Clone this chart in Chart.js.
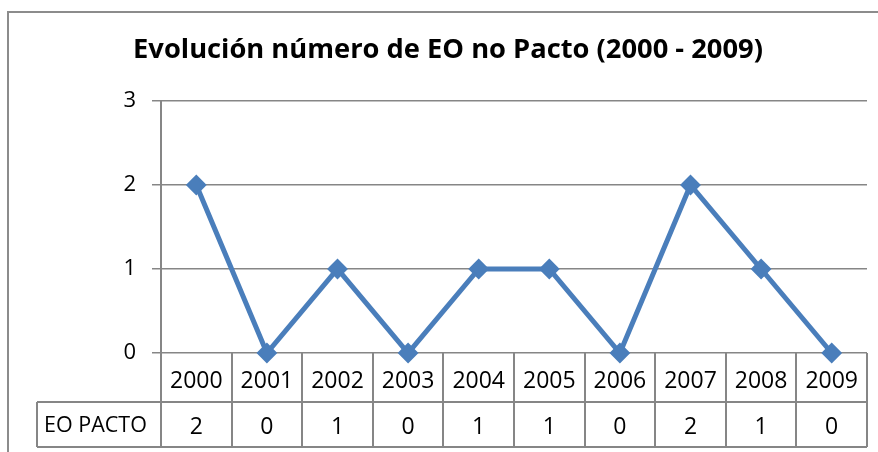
<!DOCTYPE html>
<html>
<head>
<meta charset="utf-8">
<script src="https://cdn.jsdelivr.net/npm/chart.js@4"></script>
<style>
  html, body { margin: 0; padding: 0; background: #fff; }
  #wrap { width: 878px; height: 452px; }
</style>
</head>
<body>
<div id="wrap"><canvas id="chart" width="878" height="452"></canvas></div>
<script>
const years = ["2000", "2001", "2002", "2003", "2004", "2005", "2006", "2007", "2008", "2009"];
const eoPacto = [2, 0, 1, 0, 1, 1, 0, 2, 1, 0];
const seriesName = "EO PACTO";
const chartTitle = "Evolución número de EO no Pacto (2000 - 2009)";

const FONT = "'Open Sans', sans-serif";
const GRID = "#868686";

// outer frame of the chart object (only left and top edges are visible)
const framePlugin = {
  id: "frame",
  beforeDraw: (chart) => {
    const ctx = chart.ctx;
    ctx.save();
    ctx.fillStyle = "#fff";
    ctx.fillRect(0, 0, chart.width, chart.height);
    ctx.strokeStyle = "#8c8c8c";
    ctx.lineWidth = 2;
    ctx.beginPath();
    ctx.moveTo(8, chart.height + 5);
    ctx.lineTo(8, 12);
    ctx.lineTo(chart.width + 5, 12);
    ctx.stroke();
    ctx.restore();
  },
};

// data table under the plot, columns follow the x scale
const tablePlugin = {
  id: "dataTable",
  afterDraw: (chart) => {
    const ctx = chart.ctx;
    const x = chart.scales.x;
    const area = chart.chartArea;
    const top = area.bottom;
    const mid = top + 49;
    const bottom = top + 94;
    const legendLeft = 37;
    ctx.save();
    ctx.strokeStyle = GRID;
    ctx.lineWidth = 2;
    ctx.beginPath();
    for (let i = 0; i <= years.length; i++) {
      const px = Math.round(x.getPixelForValue(i - 0.5));
      ctx.moveTo(px, top);
      ctx.lineTo(px, bottom);
    }
    ctx.moveTo(legendLeft, mid);
    ctx.lineTo(area.right, mid);
    ctx.moveTo(legendLeft, bottom);
    ctx.lineTo(area.right, bottom);
    ctx.moveTo(legendLeft, mid);
    ctx.lineTo(legendLeft, bottom);
    ctx.stroke();

    ctx.fillStyle = "#000";
    ctx.font = "23px " + FONT;
    ctx.textAlign = "center";
    ctx.textBaseline = "middle";
    years.forEach((y, i) => {
      const px = x.getPixelForValue(i);
      ctx.fillText(y, px, (top + mid) / 2 + 4);
      ctx.fillText(String(eoPacto[i]), px, (mid + bottom) / 2 + 3);
    });
    ctx.font = "21.5px " + FONT;
    ctx.textAlign = "left";
    ctx.fillText(seriesName, legendLeft + 7, (mid + bottom) / 2 + 1);
    ctx.restore();
  },
};

const ctx = document.getElementById("chart").getContext("2d");
const chart = new Chart(ctx, {
  type: "line",
  data: {
    labels: years,
    datasets: [
      {
        label: seriesName,
        data: eoPacto,
        borderColor: "#4A7EBB",
        backgroundColor: "#4A7EBB",
        borderWidth: 5,
        pointStyle: "rectRot",
        pointRadius: 9,
        pointBorderWidth: 2,
        tension: 0,
        fill: false,
        clip: false,
      },
    ],
  },
  options: {
    responsive: false,
    animation: false,
    layout: { padding: { left: 28, right: 10, top: 0, bottom: 99 } },
    plugins: {
      legend: { display: false },
      tooltip: { enabled: false },
      title: {
        display: true,
        text: chartTitle,
        color: "#000",
        font: { family: FONT, size: 27.3, weight: "bold", lineHeight: 1.2 },
        padding: { top: 34, bottom: 34.2 },
      },
    },
    scales: {
      x: {
        type: "category",
        offset: true,
        display: false,
      },
      y: {
        min: 0,
        max: 3,
        afterFit: (scale) => {
          scale.width = 133;
        },
        ticks: {
          stepSize: 1,
          color: "#000",
          padding: 16,
          font: { family: FONT, size: 22 },
        },
        grid: {
          color: GRID,
          lineWidth: 1.5,
          tickLength: 9,
        },
        border: { color: GRID, width: 2 },
      },
    },
  },
  plugins: [framePlugin, tablePlugin],
});
</script>
</body>
</html>
